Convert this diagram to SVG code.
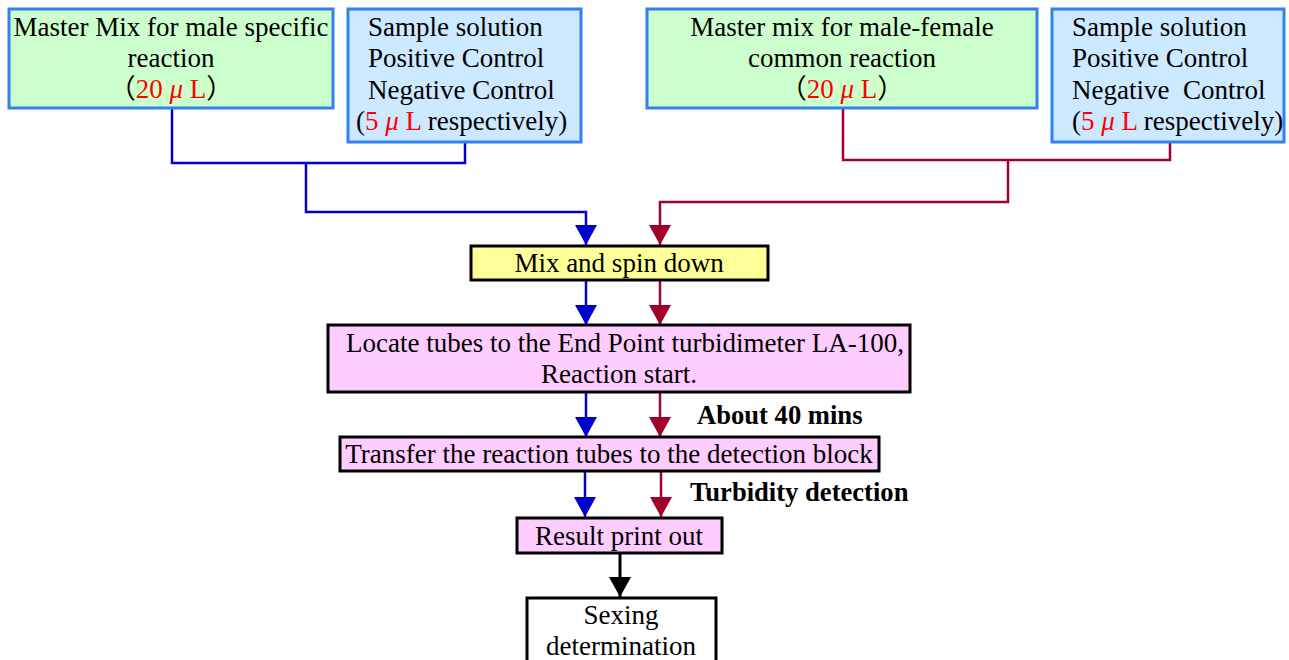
<svg xmlns="http://www.w3.org/2000/svg" width="1289" height="660" viewBox="0 0 1289 660">
<style>
text{font-family:"Liberation Serif","Noto Sans CJK JP",serif;font-size:27px;fill:#000}
.c{text-anchor:middle}
.r{fill:#ff0000}
.mu{font-style:italic}
.b{font-weight:bold;font-size:26.6px}
.green{fill:#ccffcc;stroke:#3380f0;stroke-width:3}
.blue{fill:#cce9ff;stroke:#3380f0;stroke-width:3}
.yel{fill:#ffff99;stroke:#000;stroke-width:3}
.pink{fill:#ffccff;stroke:#000;stroke-width:3}
.wht{fill:#fff;stroke:#000;stroke-width:3}
.lb{fill:none;stroke:#0000cc;stroke-width:2.5}
.lr{fill:none;stroke:#a0002a;stroke-width:2.5}
.lk{fill:none;stroke:#000;stroke-width:3}
</style>
<defs>
<marker id="ab" markerUnits="userSpaceOnUse" markerWidth="20" markerHeight="22" viewBox="0 -11 20 22" refX="20" refY="0" orient="auto"><path d="M0,-11L20,0L0,11z" fill="#0000cc"/></marker>
<marker id="ar" markerUnits="userSpaceOnUse" markerWidth="20" markerHeight="22" viewBox="0 -11 20 22" refX="20" refY="0" orient="auto"><path d="M0,-11L20,0L0,11z" fill="#a0002a"/></marker>
<marker id="ak" markerUnits="userSpaceOnUse" markerWidth="20" markerHeight="22" viewBox="0 -11 20 22" refX="20" refY="0" orient="auto"><path d="M0,-11L20,0L0,11z" fill="#000"/></marker>
</defs>
<g id="connectors">
<path class="lb" d="M172,108V163H465V142"/>
<path class="lb" d="M306,163V212H586V245" marker-end="url(#ab)"/>
<path class="lr" d="M843,108V160H1170V142"/>
<path class="lr" d="M1008,160V202H660V245" marker-end="url(#ar)"/>
<path class="lb" d="M586,280V325" marker-end="url(#ab)"/>
<path class="lr" d="M660,280V325" marker-end="url(#ar)"/>
<path class="lb" d="M586,392V437" marker-end="url(#ab)"/>
<path class="lr" d="M660,392V437" marker-end="url(#ar)"/>
<path class="lb" d="M585,471V517" marker-end="url(#ab)"/>
<path class="lr" d="M661,471V517" marker-end="url(#ar)"/>
<path class="lk" d="M620,553V597" marker-end="url(#ak)"/>
</g>
<g id="master-male">
<rect class="green" x="9" y="9" width="324" height="99"/>
<text class="c" x="171" y="36">Master Mix for male specific</text>
<text class="c" x="171" y="67">reaction</text>
<text class="c" x="171" y="98">（<tspan class="r">20 </tspan><tspan class="r mu">μ</tspan><tspan class="r"> L</tspan>）</text>
</g>
<g id="sample-left">
<rect class="blue" x="348" y="9" width="233" height="133"/>
<text x="368" y="36">Sample solution</text>
<text x="368" y="67">Positive Control</text>
<text x="368" y="99">Negative Control</text>
<text x="356" y="130">(<tspan class="r">5 </tspan><tspan class="r mu">μ</tspan><tspan class="r"> L</tspan> respectively)</text>
</g>
<g id="master-common">
<rect class="green" x="647" y="9" width="390" height="99"/>
<text class="c" x="842" y="36">Master mix for male-female</text>
<text class="c" x="842" y="67">common reaction</text>
<text class="c" x="842" y="98">（<tspan class="r">20 </tspan><tspan class="r mu">μ</tspan><tspan class="r"> L</tspan>）</text>
</g>
<g id="sample-right">
<rect class="blue" x="1052" y="9" width="232" height="133"/>
<text x="1072" y="36">Sample solution</text>
<text x="1072" y="67">Positive Control</text>
<text x="1072" y="99" xml:space="preserve">Negative  Control</text>
<text x="1072" y="130">(<tspan class="r">5 </tspan><tspan class="r mu">μ</tspan><tspan class="r"> L</tspan> respectively)</text>
</g>
<g id="mix">
<rect class="yel" x="471" y="246" width="297" height="34"/>
<text class="c" x="619" y="272">Mix and spin down</text>
</g>
<g id="locate">
<rect class="pink" x="328" y="325" width="582" height="67"/>
<text class="c" x="625" y="352">Locate tubes to the End Point turbidimeter LA-100,</text>
<text class="c" x="619" y="383">Reaction start.</text>
</g>
<text class="b" x="697" y="424">About 40 mins</text>
<g id="transfer">
<rect class="pink" x="340" y="437" width="539" height="34"/>
<text class="c" x="609" y="463">Transfer the reaction tubes to the detection block</text>
</g>
<text class="b" x="690" y="501">Turbidity detection</text>
<g id="result">
<rect class="pink" x="517" y="518" width="205" height="35"/>
<text class="c" x="619" y="545">Result print out</text>
</g>
<g id="sexing">
<rect class="wht" x="527" y="598" width="189" height="70"/>
<text class="c" x="621" y="624">Sexing</text>
<text class="c" x="621" y="655">determination</text>
</g>
</svg>
